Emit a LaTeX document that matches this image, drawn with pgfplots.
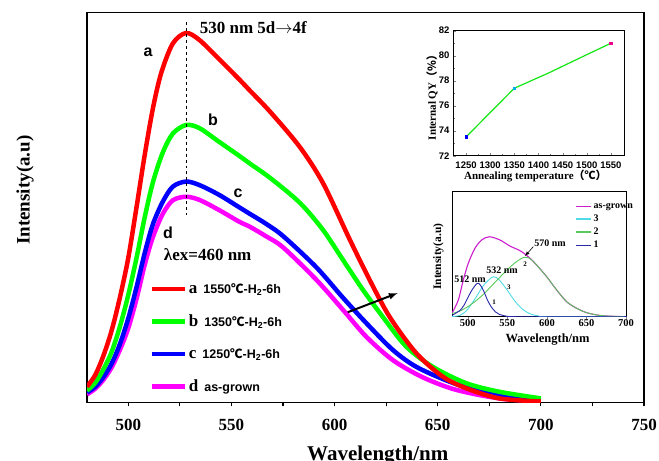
\documentclass[border=0pt]{standalone}
\usepackage{fontspec}
\setmainfont{Liberation Serif}
\newfontfamily\sfb{Liberation Sans}
\newfontfamily\cjk{Noto Sans CJK SC}
\usepackage{pgfplots}
\pgfplotsset{compat=1.18}
\newcommand{\fs}[1]{\fontsize{#1bp}{#1bp}\selectfont}
\definecolor{cA}{RGB}{255,0,0}
\definecolor{cB}{RGB}{0,255,0}
\definecolor{cC}{RGB}{0,0,255}
\definecolor{cD}{RGB}{255,0,255}
\definecolor{iMag}{RGB}{205,30,205}
\definecolor{iCyan}{RGB}{80,220,230}
\definecolor{iGreen}{RGB}{90,200,90}
\definecolor{iBlue}{RGB}{40,40,170}
\definecolor{qyGreen}{RGB}{20,230,20}

% main spectra: wavelength (nm), intensity (a.u.)
\pgfplotstableread{
x y
480 4.0
484 7
488 12
492 18.5
496 27
500 37
504 50
508 63.5
512 75.5
516 84.5
521.6 92
528 94.7
534.5 92.9
544 88.0
553.8 82.8
559 79.9
568.6 74.6
583.1 65.5
594.4 56.2
607.3 41.8
617 31.4
626.7 21.9
639.6 12.6
652.4 6.6
663.8 3.6
679.9 1.0
700 0.2
}\specA
\pgfplotstableread{
x y
480 3.0
484 5
488 8.5
492 13
496 19.5
500 27.5
504 37
508 47.5
512 56.5
516.7 64
521.6 68.9
528 71.1
534.5 70.3
544 66.8
553.8 63.2
559 61.2
568.6 57.6
583.1 51.2
594.4 44.2
604.1 36.5
613.8 28.8
623.4 21.9
634.7 14.3
647.6 9.1
663.8 4.9
679.9 2.7
700 1.0
}\specB
\pgfplotstableread{
x y
480 2.5
484 4
488 6.5
492 10
496 15
500 21.5
504 29.5
508 38.3
511.9 45.6
516.7 51.4
521.6 55.3
528 56.6
534.5 55.7
544 53.2
553.8 50.0
559 48.3
566.7 45.8
575.1 42.6
591.2 34.6
604.1 26.8
615.4 20.3
628.3 13.4
639.6 9.1
655.7 5.3
671.8 2.7
700 0.6
}\specC
\pgfplotstableread{
x y
480 2.0
484 3.5
488 5.8
492 9
496 13.5
500 19
504 26.5
508 35.3
511.9 42.3
516.7 48.3
521.6 51.8
528 52.7
534.5 51.9
544 49.3
553.8 46.3
559 45.0
566.7 42.6
575.1 39.7
591.2 31.4
604.1 23.7
615.4 16.8
628.3 10.8
642.8 6.4
658.9 3.2
679.9 1.0
700 0.3
}\specD

% inset: deconvolution of the as-grown spectrum
\pgfplotstableread{
x y
480 2.7
488 13.3
494.3 29.2
500.6 42.5
509 54.4
517.5 61
527.2 63.6
540.7 61
553.3 56.2
566 52.5
576.5 47.7
587 41.1
599.7 31.8
612.4 21.2
625 11.9
637.6 6.7
650.3 3.2
667 1
684 0.3
700 0
}\fitAll
\pgfplotstableread{
x y
480 2.5
490 4.5
500 8
510 12.5
520 18
530 24.5
540 31
550 37.5
560 43
570 47
578 46.5
587 41.1
599.7 31.8
612.4 21.2
625 11.9
637.6 6.7
650.3 3.2
667 1
684 0.3
700 0
}\fitTwo
\pgfplotstableread{
x y
480 0
490 1
495 3
500 6
510 15
520 25
532 31.8
540 29
550 21
560 12
570 5.5
580 2
590 0.5
600 0
700 0
}\fitThree
\pgfplotstableread{
x y
480 1
490 5
495 9
500 15
505 21
512 26.6
516 25
520 20.5
525 13
530 7.5
535 3.8
540 1.8
550 0.3
560 0
700 0
}\fitOne

\begin{document}
\begin{tikzpicture}
% ---- main panel ----
\begin{axis}[
  at={(87bp,58.7bp)}, anchor=south west,
  width=557bp, height=390bp, scale only axis,
  xmin=480, xmax=750, ymin=0, ymax=100,
  xtick={500,550,...,750}, minor x tick num=1,
  ytick=\empty, xtick pos=left, tick align=outside,
  major tick length=4bp, minor tick length=4bp,
  axis line style={line width=1.4bp},
  every tick/.style={line width=1.2bp, black},
  xticklabel style={font=\bfseries\fs{17}, yshift=-9bp, /pgf/number format/assume math mode=true},
  xlabel={Wavelength/nm}, ylabel={Intensity(a.u)},
  xlabel style={font=\bfseries\fs{21}, at={(rel axis cs:0.522,-0.1505)}, anchor=base},
  ylabel style={font=\bfseries\fs{19}, at={(rel axis cs:-0.111,0.544)}, anchor=center},
  legend style={at={(axis cs:508.7,31.6)}, anchor=north west, draw=none, fill=none,
    font=\bfseries, row sep=16.3bp, cells={anchor=west}},
  legend image code/.code={\draw[#1,line width=4.5bp] (0bp,0bp) -- (33bp,0bp);},
  reverse legend,
]
\addplot[cD, line width=4.5bp, smooth, no marks] table {\specD};
\addlegendentry{\fs{17}d\hspace{6bp}{\sfb\fs{12.5}as-grown}}
\addplot[cC, line width=4.5bp, smooth, no marks] table {\specC};
\addlegendentry{\fs{17}c\hspace{6bp}{\sfb\fs{12.5}1250{\cjk ℃}-H\textsubscript{2}-6h}}
\addplot[cB, line width=4.5bp, smooth, no marks] table {\specB};
\addlegendentry{\fs{17}b\hspace{6bp}{\sfb\fs{12.5}1350{\cjk ℃}-H\textsubscript{2}-6h}}
\addplot[cA, line width=4.5bp, smooth, no marks] table {\specA};
\addlegendentry{\fs{17}a\hspace{6bp}{\sfb\fs{12.5}1550{\cjk ℃}-H\textsubscript{2}-6h}}
\addplot[black, dashed, line width=0.5bp, forget plot] coordinates {(528,97.5) (528,48)};
\node[anchor=west, font=\bfseries\fs{17}] at (axis cs:533,96.2) {530 nm 5d$\rightarrow$4f};
\node[font=\sfb\bfseries\fs{16}] at (axis cs:509.6,89.8) {a};
\node[font=\sfb\bfseries\fs{16}] at (axis cs:541.1,72.4) {b};
\node[font=\sfb\bfseries\fs{16}] at (axis cs:553.2,53.7) {c};
\node[font=\sfb\bfseries\fs{16}] at (axis cs:519.3,43.4) {d};
\node[anchor=west, font=\bfseries\fs{17}] at (axis cs:515.6,37.8) {λex=460 nm};
\draw[-latex, line width=2bp] (axis cs:606.4,23.1) -- (axis cs:630.6,28.0);
\end{axis}

% ---- inset: quantum yield ----
\begin{axis}[
  at={(453bp,305.3bp)}, anchor=south west,
  width=171bp, height=125bp, scale only axis,
  xmin=1223, xmax=1577, ymin=72, ymax=82,
  xtick={1250,1300,...,1550}, ytick={72,74,...,82},
  minor y tick num=1, minor x tick num=1,
  xtick pos=left, ytick pos=left, tick align=inside,
  major tick length=3bp, minor tick length=2bp,
  /pgf/number format/1000 sep={},
  axis line style={line width=0.8bp},
  axis background/.style={fill=white},
  ticklabel style={font=\sfb\bfseries\fs{9.5}, /pgf/number format/assume math mode=true},
  xticklabel style={yshift=-2.5bp},
  xlabel={Annealing temperature{\cjk （℃）}},
  ylabel={Internal QY{\cjk （\%）}},
  xlabel style={font=\bfseries\fs{11}, at={(rel axis cs:0.482,-0.194)}, anchor=base},
  ylabel style={font=\bfseries\fs{11}, at={(rel axis cs:-0.123,0.486)}, anchor=center},
]
\addplot[qyGreen, line width=1.2bp, no marks] coordinates {
  (1250,73.5) (1350,77.4) (1420,78.6) (1490,79.9) (1550,81.0)};
\addplot[only marks, mark=square*, mark size=1.3bp, blue] coordinates {(1250,73.5)};
\addplot[only marks, mark=square*, mark size=1.3bp, cyan] coordinates {(1350,77.4)};
\addplot[only marks, mark=square*, mark size=1.3bp, magenta] coordinates {(1550,81.0)};
\end{axis}

% ---- inset: Gaussian fit of the as-grown spectrum ----
\begin{axis}[
  at={(452bp,144.3bp)}, anchor=south west,
  width=174bp, height=125.7bp, scale only axis,
  xmin=480, xmax=700, ymin=0, ymax=100,
  xtick={500,550,...,700}, ytick=\empty,
  xtick pos=left, tick align=outside, major tick length=2bp,
  axis line style={line width=0.8bp},
  axis background/.style={fill=white},
  xticklabel style={font=\bfseries\fs{10.5}, inner sep=1bp, /pgf/number format/assume math mode=true},
  xlabel={Wavelength/nm}, ylabel={Intensity(a.u)},
  xlabel style={font=\bfseries\fs{12.5}, inner sep=0pt, at={(rel axis cs:0.549,-0.205)}, anchor=base},
  ylabel style={font=\bfseries\fs{11.5}, at={(rel axis cs:-0.079,0.477)}, anchor=center},
  legend style={at={(rel axis cs:0.69,0.935)}, anchor=north west, draw=none, fill=none,
    font=\bfseries\fs{10}, row sep=1bp, cells={anchor=west}},
  legend image code/.code={\draw[#1,line width=1.4bp] (0bp,0bp) -- (15bp,0bp);},
]
\addplot[iMag, line width=1.1bp, smooth, no marks] table {\fitAll};
\addlegendentry{as-grown}
\addplot[iCyan, line width=0.9bp, smooth, no marks] table {\fitThree};
\addlegendentry{3}
\addplot[iGreen, line width=0.9bp, smooth, no marks] table {\fitTwo};
\addlegendentry{2}
\addplot[iBlue, line width=0.9bp, smooth, no marks] table {\fitOne};
\addlegendentry{1}
\node[font=\bfseries\fs{10}] at (axis cs:603.9,58.6) {570 nm};
\draw[-latex, line width=0.6bp] (axis cs:582.8,55.7) -- (axis cs:572.3,48.3);
\node[font=\bfseries\fs{10}] at (axis cs:543.2,37.2) {532 nm};
\node[font=\bfseries\fs{10}] at (axis cs:502.8,30) {512 nm};
\node[font=\bfseries\fs{7}] at (axis cs:533.1,11.7) {1};
\node[font=\bfseries\fs{7}] at (axis cs:552,23.6) {3};
\node[font=\bfseries\fs{7}] at (axis cs:572.3,41.9) {2};
\end{axis}

\pgfresetboundingbox
\path[use as bounding box] (0,0) rectangle (659bp,461bp);
\end{tikzpicture}
\end{document}
